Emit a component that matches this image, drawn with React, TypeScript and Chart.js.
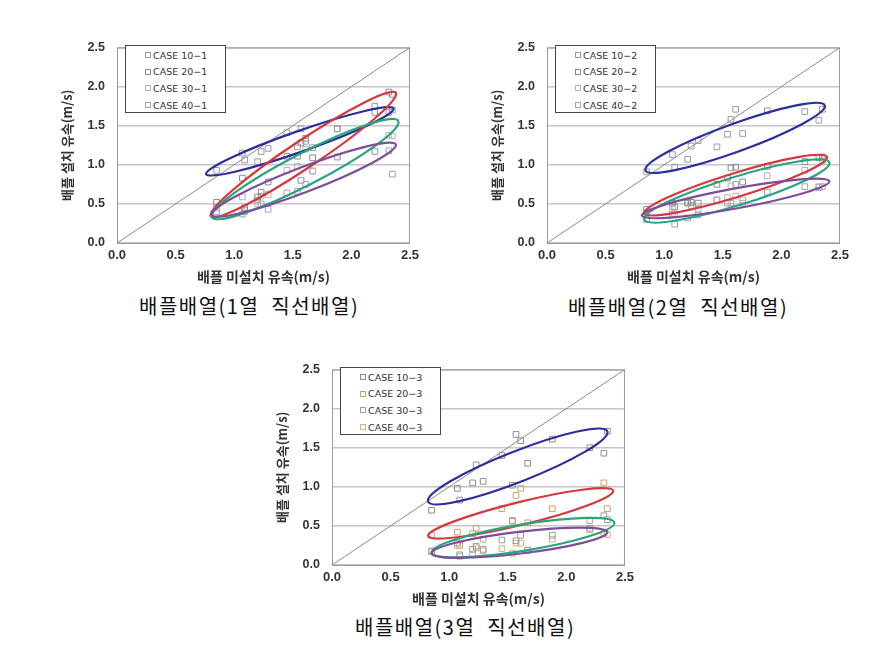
import React, { useEffect, useRef } from 'react';
import { Chart, registerables } from 'chart.js';
Chart.register(...registerables);

// shared x values: flow speed without baffle (m/s)
const speedNoBaffle = [0.85, 1.07, 1.09, 1.20, 1.23, 1.29, 1.45, 1.54, 1.57, 1.61, 1.67, 1.88, 2.20, 2.32, 2.35];
const axisTicks = [0, 0.5, 1.0, 1.5, 2.0, 2.5];
const diagonal = [0, 2.5];

// Panel 1 (1열 직선배열)
const case10_1 = [0.93, 1.15, 1.06, 1.04, 1.17, 1.21, 1.41, 1.23, 1.46, 1.30, 1.22, 1.46, 1.75, 1.67, 1.70];
const case20_1 = [0.52, 0.83, 0.45, 0.59, 0.65, 0.78, 1.11, 1.11, 1.28, 1.34, 1.09, 1.46, 1.67, 1.93, 1.90];
const case30_1 = [0.45, 0.59, 0.40, 0.50, 0.60, 0.62, 0.93, 0.98, 0.80, 1.20, 0.92, 1.10, 1.17, 1.38, 1.37];
const case40_1 = [0.40, 0.37, 0.42, 0.55, 0.50, 0.43, 0.64, 0.66, 0.80, 0.75, 0.92, 1.10, 1.17, 1.18, 0.88];
const legend1 = ['CASE 10\u22121', 'CASE 20\u22121', 'CASE 30\u22121', 'CASE 40\u22121'];
// ellipse: [x1, y1, x2, y2, half vertical thickness]
const ellipses1 = [
  [0.76, 0.88, 2.36, 1.72, 0.14],
  [0.80, 0.34, 2.38, 1.92, 0.21],
  [0.81, 0.33, 2.40, 1.56, 0.23],
  [0.81, 0.36, 2.38, 1.26, 0.17],
];

// Panel 2 (2열 직선배열)
const case10_2 = [0.91, 1.13, 0.97, 1.07, 1.24, 1.31, 1.23, 1.39, 1.58, 1.71, 1.40, 1.69, 1.68, 1.57, 1.71];
const case20_2 = [0.43, 0.51, 0.46, 0.51, 0.52, 0.51, 0.75, 0.83, 0.96, 0.97, 0.78, 0.98, 1.04, 1.09, 1.10];
const case30_2 = [0.38, 0.46, 0.37, 0.52, 0.52, 0.43, 0.55, 0.58, 0.73, 0.60, 0.55, 0.86, 0.93, 0.72, 1.05];
const case40_2 = [0.30, 0.37, 0.24, 0.32, 0.48, 0.36, 0.55, 0.51, 0.51, 0.75, 0.51, 0.65, 0.72, 0.71, 0.72];
const legend2 = ['CASE 10\u22122', 'CASE 20\u22122', 'CASE 30\u22122', 'CASE 40\u22122'];
const ellipses2 = [
  [0.84, 0.93, 2.37, 1.76, 0.19],
  [0.83, 0.38, 2.39, 1.10, 0.16],
  [0.83, 0.30, 2.41, 1.03, 0.19],
  [0.81, 0.35, 2.41, 0.79, 0.13],
];

// Panel 3 (3열 직선배열)
const case10_3 = [0.70, 0.98, 0.83, 1.05, 1.28, 1.07, 1.40, 1.02, 1.67, 1.59, 1.30, 1.61, 1.50, 1.43, 1.71];
const case20_3 = [0.38, 0.42, 0.25, 0.40, 0.47, 0.33, 0.72, 0.57, 0.89, 0.98, 0.54, 0.72, 0.57, 1.05, 0.72];
const case30_3 = [0.18, 0.28, 0.13, 0.20, 0.24, 0.20, 0.32, 0.56, 0.31, 0.38, 0.19, 0.38, 0.47, 0.63, 0.58];
const case40_3 = [0.17, 0.25, 0.11, 0.14, 0.22, 0.18, 0.21, 0.15, 0.28, 0.28, 0.19, 0.33, 0.45, 0.40, 0.39];
const legend3 = ['CASE 10\u22123', 'CASE 20\u22123', 'CASE 30\u22123', 'CASE 40\u22123'];
const ellipses3 = [
  [0.82, 0.81, 2.35, 1.71, 0.21],
  [0.82, 0.37, 2.40, 0.95, 0.15],
  [0.85, 0.16, 2.41, 0.54, 0.17],
  [0.85, 0.15, 2.35, 0.42, 0.14],
];

const ellipseColors = ['#2b2f9e', '#d6383c', '#29a57c', '#7e4d9c'];
const grayMarkers = ['#9a9aa6', '#8c8c8c', '#b2b2b2', '#a2a2b2'];
const mixedMarkers = ['#8e8e8e', '#c8a270', '#9c9c9c', '#d2b27e'];

const PLOT_W = 295;
const AXIS_Y_W = 62;
const AXIS_X_H = 46;
const PAD_TOP = 10;
const PAD_RIGHT = 12;
const CANVAS_W = AXIS_Y_W + PLOT_W + PAD_RIGHT;
const CANVAS_H = PAD_TOP + 205 + AXIS_X_H;

const ellipsePlugin = {
  id: 'fitEllipses',
  afterDatasetsDraw(chart: any, _args: any, opts: any) {
    const items: number[][] = opts.items || [];
    const xs = chart.scales.x;
    const ys = chart.scales.y;
    const ctx = chart.ctx;
    ctx.save();
    items.forEach((e, i) => {
      const [x1, y1, x2, y2, h] = e;
      const px1 = xs.getPixelForValue(x1);
      const py1 = ys.getPixelForValue(y1);
      const px2 = xs.getPixelForValue(x2);
      const py2 = ys.getPixelForValue(y2);
      const cx = (px1 + px2) / 2;
      const cy = (py1 + py2) / 2;
      const dx = px2 - px1;
      const dy = py2 - py1;
      const a = Math.hypot(dx, dy) / 2;
      const ang = Math.atan2(dy, dx);
      const hp = Math.abs(ys.getPixelForValue(h) - ys.getPixelForValue(0));
      const b = hp * Math.cos(ang);
      ctx.beginPath();
      ctx.ellipse(cx, cy, a, b, ang, 0, Math.PI * 2);
      ctx.strokeStyle = opts.colors[i];
      ctx.lineWidth = 2.2;
      ctx.stroke();
    });
    ctx.restore();
  },
};

const framePlugin = {
  id: 'plotFrame',
  beforeDatasetsDraw(chart: any) {
    const { ctx, chartArea } = chart;
    ctx.save();
    ctx.strokeStyle = '#9a9a9a';
    ctx.lineWidth = 1;
    ctx.strokeRect(chartArea.left + 0.5, chartArea.top + 0.5, chartArea.right - chartArea.left - 1, chartArea.bottom - chartArea.top);
    ctx.restore();
  },
};

type PanelProps = {
  left: number;
  top: number;
  series: number[][];
  markerColors: string[];
  legend: string[];
  ellipses: number[][];
  caption: string;
  captionLeft: number;
  captionTop: number;
};

function Panel(p: PanelProps) {
  const ref = useRef<HTMLCanvasElement | null>(null);
  useEffect(() => {
    if (!ref.current) return;
    const tickFont = { family: 'Liberation Sans', size: 13, weight: 'bold' as const };
    const datasets: any[] = [
      {
        type: 'line',
        data: diagonal.map((v) => ({ x: v, y: v })),
        borderColor: '#8a8a8a',
        borderWidth: 1,
        pointRadius: 0,
        order: 10,
      },
      ...p.series.map((ys, i) => ({
        type: 'scatter',
        label: p.legend[i],
        data: speedNoBaffle.map((x, j) => ({ x, y: ys[j] })),
        pointStyle: 'rect',
        pointRadius: 4,
        borderColor: p.markerColors[i],
        backgroundColor: 'rgba(0,0,0,0)',
        borderWidth: 1,
        order: 1,
      })),
    ];
    const chart = new Chart(ref.current, {
      type: 'scatter',
      data: { datasets },
      options: {
        animation: false,
        responsive: false,
        devicePixelRatio: 1,
        layout: { padding: { top: PAD_TOP, right: PAD_RIGHT, left: 0, bottom: 0 } },
        plugins: {
          legend: { display: false },
          tooltip: { enabled: false },
          fitEllipses: { items: p.ellipses, colors: ellipseColors },
        } as any,
        scales: {
          x: {
            type: 'linear',
            min: 0,
            max: 2.5,
            afterBuildTicks: (s: any) => {
              s.ticks = axisTicks.map((v) => ({ value: v }));
            },
            ticks: {
              callback: (v: any) => Number(v).toFixed(1),
              font: tickFont,
              color: '#333',
              padding: 5,
            },
            grid: { display: false, drawTicks: false },
            border: { display: false },
            title: {
              display: true,
              text: '배플 미설치 유속(m/s)',
              font: { family: 'Noto Sans CJK KR', size: 14, weight: 'bold' },
              color: '#333',
              padding: { top: 4, bottom: 4 },
            },
            afterFit: (s: any) => {
              s.height = AXIS_X_H;
            },
          },
          y: {
            type: 'linear',
            min: 0,
            max: 2.5,
            afterBuildTicks: (s: any) => {
              s.ticks = axisTicks.map((v) => ({ value: v }));
            },
            ticks: {
              callback: (v: any) => Number(v).toFixed(1),
              font: { family: 'Liberation Sans', size: 12.5, weight: 'bold' },
              color: '#333',
              padding: 12,
            },
            grid: { color: '#c6c6c6', lineWidth: 1.5, drawTicks: false },
            border: { display: false },
            title: {
              display: true,
              text: '배플 설치 유속(m/s)',
              font: { family: 'Noto Sans CJK KR', size: 13, weight: 'bold' },
              color: '#333',
              padding: { top: 4, bottom: 4 },
            },
            afterFit: (s: any) => {
              s.width = AXIS_Y_W;
            },
          },
        },
      } as any,
      plugins: [framePlugin, ellipsePlugin],
    });
    return () => chart.destroy();
  }, []);

  const plotLeft = p.left + AXIS_Y_W;
  const plotTop = p.top + PAD_TOP;
  return (
    <>
      <canvas
        ref={ref}
        width={CANVAS_W}
        height={CANVAS_H}
        style={{ position: 'absolute', left: p.left, top: p.top, width: CANVAS_W, height: CANVAS_H, display: 'block' }}
      />
      <div
        style={{
          position: 'absolute',
          left: plotLeft + 8,
          top: plotTop + 7,
          width: 99,
          height: 66,
          border: '1px solid #444',
          background: '#fff',
          boxSizing: 'content-box',
        }}
      >
        {p.legend.map((t, i) => (
          <div
            key={t}
            style={{
              position: 'absolute',
              left: 19,
              top: 2 + i * 16.7,
              height: 14,
              display: 'flex',
              alignItems: 'center',
              fontFamily: 'DejaVu Sans',
              fontSize: 9.5,
              color: '#333',
              whiteSpace: 'pre',
            }}
          >
            <span
              style={{
                display: 'inline-block',
                width: 4,
                height: 4,
                border: `1px solid ${p.markerColors[i]}`,
                marginRight: 2,
              }}
            />
            {t}
          </div>
        ))}
      </div>
      <div
        style={{
          position: 'absolute',
          left: p.captionLeft,
          top: p.captionTop,
          fontFamily: 'Noto Sans CJK KR',
          fontWeight: 400,
          fontSize: 20,
          lineHeight: '20px',
          letterSpacing: '1.5px',
          color: '#111',
          whiteSpace: 'pre',
        }}
      >
        {p.caption}
      </div>
    </>
  );
}

export default function App() {
  return (
    <div style={{ position: 'absolute', left: 0, top: 0, width: 891, height: 656, background: '#fff' }}>
      <Panel
        left={55}
        top={28}
        series={[case10_1, case20_1, case30_1, case40_1]}
        markerColors={grayMarkers}
        legend={legend1}
        ellipses={ellipses1}
        caption={'배플배열(1열  직선배열)'}
        captionLeft={139}
        captionTop={296}
      />
      <Panel
        left={485}
        top={28}
        series={[case10_2, case20_2, case30_2, case40_2]}
        markerColors={grayMarkers}
        legend={legend2}
        ellipses={ellipses2}
        caption={'배플배열(2열  직선배열)'}
        captionLeft={568}
        captionTop={297}
      />
      <Panel
        left={270}
        top={350}
        series={[case10_3, case20_3, case30_3, case40_3]}
        markerColors={mixedMarkers}
        legend={legend3}
        ellipses={ellipses3}
        caption={'배플배열(3열  직선배열)'}
        captionLeft={355}
        captionTop={617}
      />
    </div>
  );
}
